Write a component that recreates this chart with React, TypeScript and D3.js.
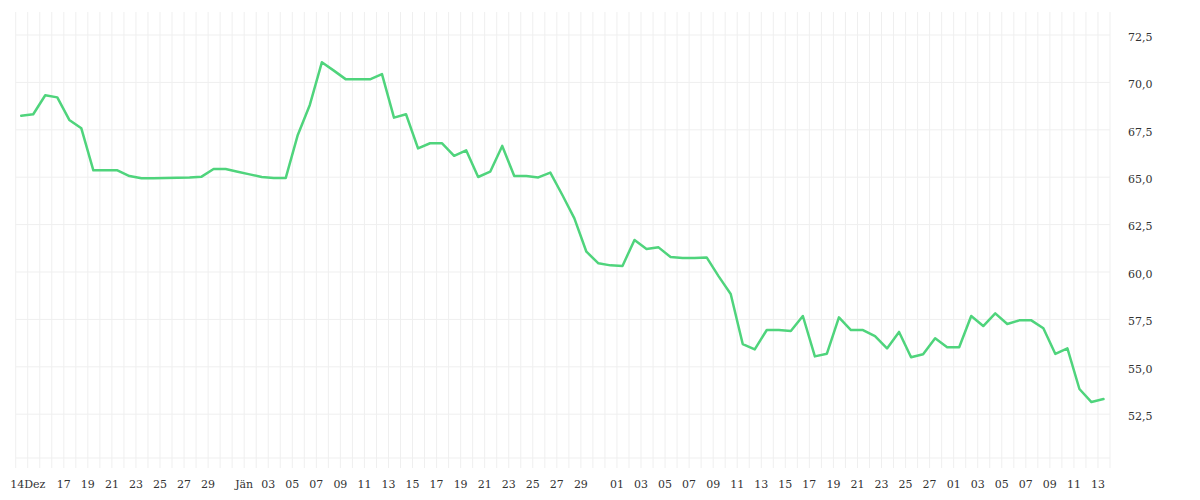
import React from "react";
import * as d3 from "d3";

// Daily closing values, 13 Dec 2022 – 13 Mar 2023
const startDate = new Date(2022, 11, 13, 11);
const values: number[] = [
  68.24, 68.32, 69.32, 69.21, 68.02, 67.58, 65.36, 65.36, 65.36, 65.06,
  64.94, 64.95, 64.96, 64.97, 64.98, 65.03, 65.43, 65.43, 65.29, 65.15,
  65.01, 64.96, 64.96, 67.23, 68.81, 71.06, 70.62, 70.16, 70.16, 70.16,
  70.44, 68.14, 68.32, 66.52, 66.79, 66.79, 66.13, 66.42, 65.01, 65.29,
  66.65, 65.06, 65.06, 64.99, 65.24, 64.06, 62.83, 61.07, 60.46, 60.35,
  60.32, 61.69, 61.21, 61.3, 60.79, 60.74, 60.74, 60.77, 59.77, 58.84,
  56.2, 55.92, 56.94, 56.94, 56.89, 57.68, 55.55, 55.69, 57.61, 56.94,
  56.94, 56.62, 55.97, 56.84, 55.5, 55.66, 56.5, 56.03, 56.03, 57.68,
  57.15, 57.82, 57.26, 57.45, 57.45, 57.03, 55.68, 55.97, 53.83, 53.14,
  53.3,
];

const xTickDates: string[] = [
  "2022-12-14", "2022-12-17", "2022-12-19", "2022-12-21", "2022-12-23", "2022-12-25", "2022-12-27", "2022-12-29",
  "2023-01-01", "2023-01-03", "2023-01-05", "2023-01-07", "2023-01-09", "2023-01-11", "2023-01-13", "2023-01-15",
  "2023-01-17", "2023-01-19", "2023-01-21", "2023-01-23", "2023-01-25", "2023-01-27", "2023-01-29",
  "2023-02-01", "2023-02-03", "2023-02-05", "2023-02-07", "2023-02-09", "2023-02-11", "2023-02-13", "2023-02-15",
  "2023-02-17", "2023-02-19", "2023-02-21", "2023-02-23", "2023-02-25", "2023-02-27",
  "2023-03-01", "2023-03-03", "2023-03-05", "2023-03-07", "2023-03-09", "2023-03-11", "2023-03-13",
];
const xTickLabels: string[] = [
  "14Dez", "17", "19", "21", "23", "25", "27", "29",
  "Jän", "03", "05", "07", "09", "11", "13", "15",
  "17", "19", "21", "23", "25", "27", "29",
  "01", "03", "05", "07", "09", "11", "13", "15",
  "17", "19", "21", "23", "25", "27",
  "01", "03", "05", "07", "09", "11", "13",
];
const yTicks: number[] = [52.5, 55, 57.5, 60, 62.5, 65, 67.5, 70, 72.5];

const W = 1200;
const H = 500;
const left = 15.7;
const right = 1110;
const top = 12;
const bottom = 458;

const parse = (s: string) => {
  const [y, m, d] = s.split("-").map(Number);
  return new Date(y, m - 1, d);
};

export default function App() {
  const data = values.map((v, i) => ({
    date: d3.timeDay.offset(startDate, i),
    value: v,
  }));
  const x = d3
    .scaleTime()
    .domain([new Date(2022, 11, 13), new Date(2023, 2, 14)])
    .range([left, right]);
  const y = d3.scaleLinear().domain([52.5, 72.5]).range([414.2, 35]);
  const days = d3.timeDay.range(new Date(2022, 11, 13), new Date(2023, 2, 15));
  const line = d3
    .line<{ date: Date; value: number }>()
    .x((d) => x(d.date))
    .y((d) => y(d.value));
  const fmt = d3.format(".1f");
  const grid = "#efefef";
  const font = "'DejaVu Serif', serif";

  return (
    <svg
      width={W}
      height={H}
      style={{ position: "fixed", left: 0, top: 0, background: "#fff" }}
    >
      <g>
        {days.map((d, i) => (
          <line
            key={"v" + i}
            x1={x(d)}
            x2={x(d)}
            y1={top}
            y2={bottom + 10}
            stroke={grid}
            strokeWidth={1}
          />
        ))}
        {yTicks.map((t) => (
          <line
            key={"h" + t}
            x1={left}
            x2={right}
            y1={y(t)}
            y2={y(t)}
            stroke={grid}
            strokeWidth={1}
          />
        ))}
        <line x1={left} x2={right} y1={bottom} y2={bottom} stroke={grid} strokeWidth={1} />
      </g>
      <path
        d={line(data) || ""}
        fill="none"
        stroke="#4fd47c"
        strokeWidth={2.5}
        strokeLinejoin="round"
        strokeLinecap="round"
      />
      <g fontFamily={font} fontSize={11} fill="#333">
        {yTicks.map((t) => (
          <text key={"yl" + t} x={1128} y={y(t) + 2} dy="0.35em">
            {fmt(t).replace(".", ",")}
          </text>
        ))}
        {xTickDates.map((s, i) => (
          <text key={"xl" + i} x={x(parse(s))} y={488} textAnchor="middle">
            {xTickLabels[i]}
          </text>
        ))}
      </g>
    </svg>
  );
}
